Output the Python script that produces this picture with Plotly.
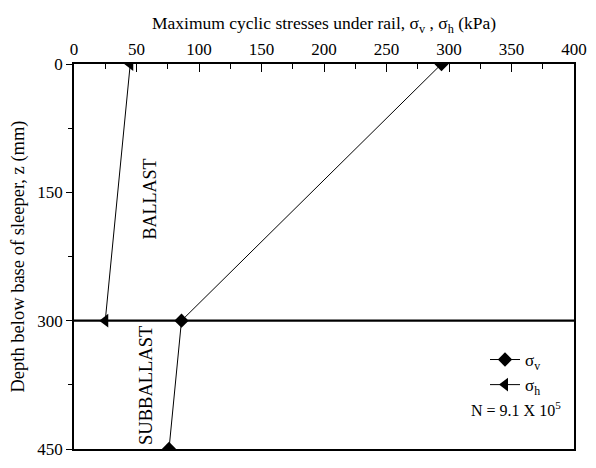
import plotly.graph_objects as go

# Depths below sleeper base (mm) and maximum cyclic stresses (kPa)
depth_v = [0, 300, 450]
sigma_v = [294, 86, 76]
depth_h = [0, 300]
sigma_h = [45, 25]

LAYER_BOUNDARY = 300  # ballast / subballast interface depth (mm)
x_ticks = [0, 50, 100, 150, 200, 250, 300, 350, 400]
y_ticks = [0, 150, 300, 450]

FONT = "Liberation Serif, Times New Roman, serif"

fig = go.Figure()

fig.add_trace(go.Scatter(
    x=sigma_v, y=depth_v, mode="lines+markers", name="σ<sub>v</sub>",
    line=dict(color="black", width=1),
    marker=dict(symbol="diamond", size=11, color="black"),
))
fig.add_trace(go.Scatter(
    x=sigma_h, y=depth_h, mode="lines+markers", name="σ<sub>h</sub>",
    line=dict(color="black", width=1),
    marker=dict(symbol="triangle-left", size=12, color="black"),
))

# Interface between ballast and subballast
fig.add_shape(type="line", xref="x", yref="y", x0=x_ticks[0], x1=x_ticks[-1],
              y0=LAYER_BOUNDARY, y1=LAYER_BOUNDARY,
              line=dict(color="black", width=2.2), layer="above")

fig.add_annotation(x=61, y=158, xref="x", yref="y", text="BALLAST",
                   textangle=-90, showarrow=False,
                   font=dict(family=FONT, size=18, color="black"))
fig.add_annotation(x=57, y=376, xref="x", yref="y", text="SUBBALLAST",
                   textangle=-90, showarrow=False,
                   font=dict(family=FONT, size=18.5, color="black"))
fig.add_annotation(x=0.977, y=0.105, xref="paper", yref="paper",
                   text="N = 9.1 X 10<sup>5</sup>", showarrow=False,
                   xanchor="right", yanchor="middle",
                   font=dict(family=FONT, size=16, color="black"))

fig.update_layout(
    width=596, height=468,
    margin=dict(l=74, r=13, t=64, b=9),
    paper_bgcolor="white", plot_bgcolor="white",
    font=dict(family=FONT, size=16, color="black"),
    showlegend=True,
    legend=dict(x=0.822, y=0.278, xanchor="left", yanchor="top",
                bgcolor="rgba(0,0,0,0)", borderwidth=0,
                font=dict(family=FONT, size=17), tracegroupgap=6),
    xaxis=dict(
        side="top", range=[x_ticks[0], x_ticks[-1]],
        tickvals=x_ticks, ticks="inside", ticklen=8, tickwidth=1.2,
        tickcolor="black", showgrid=False, zeroline=False,
        showline=True, linecolor="black", linewidth=1.5, mirror=True,
        minor=dict(ticks="inside", ticklen=5, tickwidth=1.2,
                   tickcolor="black", dtick=25),
        tickfont=dict(family=FONT, size=17),
        title=dict(text="Maximum cyclic stresses under rail, σ<sub>v</sub> , σ<sub>h</sub> (kPa)",
                   font=dict(family=FONT, size=17.5), standoff=6),
    ),
    yaxis=dict(
        range=[y_ticks[-1], y_ticks[0]],
        tickvals=y_ticks, ticks="outside", ticklen=6, tickwidth=1.2,
        tickcolor="black", showgrid=False, zeroline=False,
        showline=True, linecolor="black", linewidth=1.5, mirror=True,
        minor=dict(ticks="outside", ticklen=4, tickwidth=1.2,
                   tickcolor="black", dtick=75),
        tickfont=dict(family=FONT, size=17),
        title=dict(text="Depth below base of sleeper, z (mm)",
                   font=dict(family=FONT, size=18.5), standoff=8),
    ),
)

fig.write_html("out.html")
